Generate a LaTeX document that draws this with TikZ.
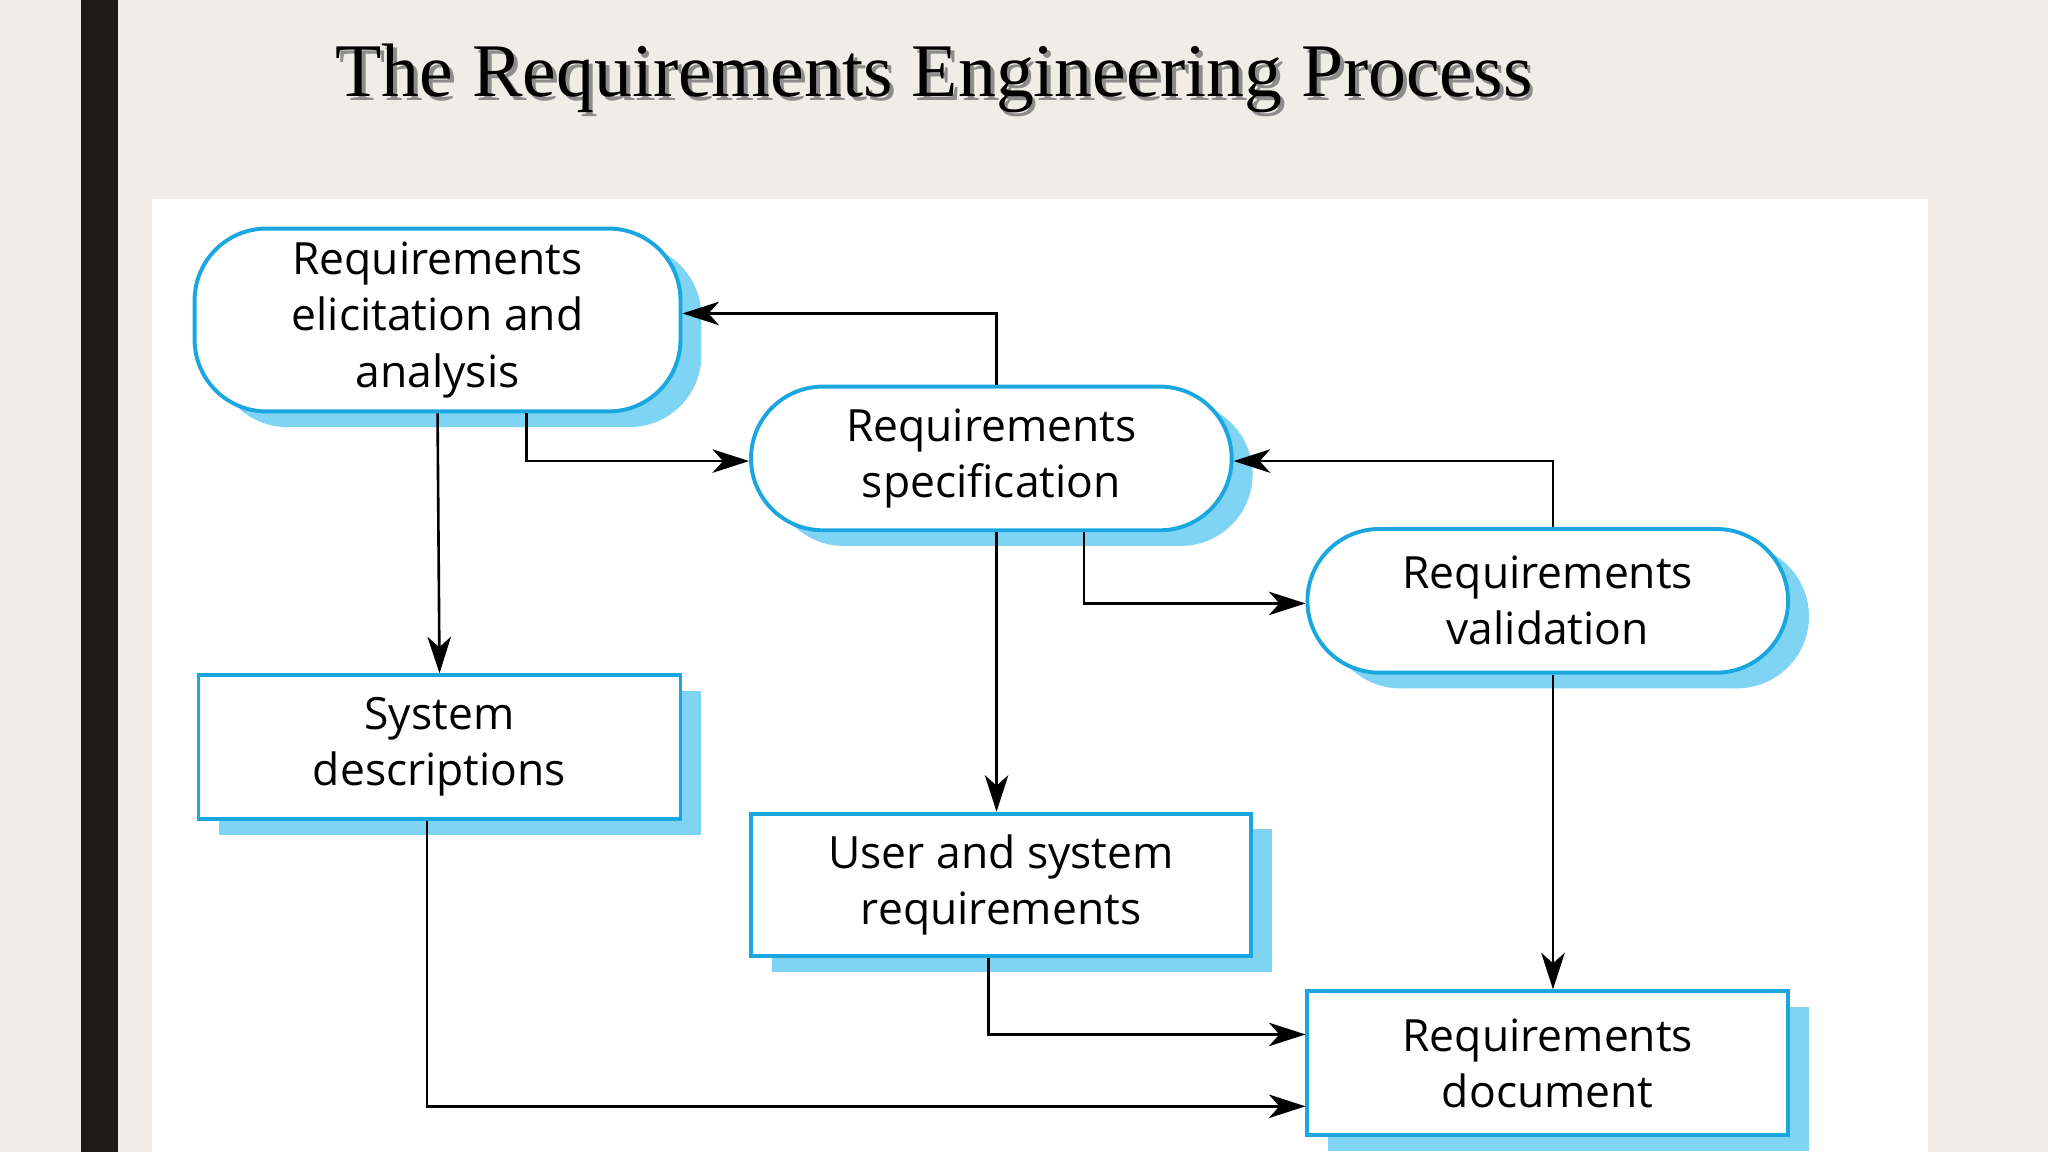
\documentclass[tikz,border=0pt]{standalone}
\usepackage{fontspec}
\setmainfont{Liberation Serif}
\newfontfamily\boxfont{Open Sans}
\usetikzlibrary{arrows.meta,shadows}
\definecolor{bg}{HTML}{EFEDE6}
\definecolor{bar}{HTML}{1C1C14}
\definecolor{edge}{HTML}{1AA7E0}
\definecolor{shad}{HTML}{7FD4F4}
\begin{document}
\begin{tikzpicture}[x=1pt,y=-1pt,
  box/.style={draw=edge,line width=3pt,fill=white,align=center,
    font=\boxfont\fontsize{34}{43}\selectfont,
    drop shadow={shadow xshift=16pt,shadow yshift=-12pt,fill=shad,opacity=1}},
  proc/.style={box,rounded corners=55pt},
  arr/.style={line width=2pt,-{Stealth[length=28pt,width=18pt,inset=8pt]}}]
\useasboundingbox (0,0) rectangle (1568,882);
\fill[bg] (0,0) rectangle (1568,882);
\fill[bar] (62,0) rectangle (90,882);
\fill[white] (116,152) rectangle (1476,882);
\node[text=black!45,font=\fontsize{58}{64}\selectfont] at (718,63) {The Requirements Engineering Process};
\node (title) [text=black,font=\fontsize{58}{64}\selectfont] at (715,60) {The Requirements Engineering Process};
\node (A) [proc,minimum width=372pt,minimum height=140pt] at (335,245) {Requirements\\elicitation and\\analysis};
\node (B) [proc,minimum width=368pt,minimum height=110pt] at (759,351) {Requirements\\specification};
\node (C) [proc,minimum width=368pt,minimum height=110pt] at (1185,460) {Requirements\\validation};
\node (D) [box,minimum width=369pt,minimum height=110pt] at (336.5,572) {System\\descriptions};
\node (E) [box,minimum width=383pt,minimum height=109pt] at (766.5,677.5) {User and system\\requirements};
\node (F) [box,minimum width=368pt,minimum height=110pt] at (1185,814) {Requirements\\document};
\draw[arr] (763,0 |- B.north) -- (763,240) -- (A.east |- 0,240);
\draw[arr] (403,0 |- A.south) -- (403,353) -- (B.west |- 0,353);
\draw[arr] (335,0 |- A.south) -- (D.north);
\draw[arr] (1189,0 |- C.north) -- (1189,353) -- (B.east |- 0,353);
\draw[arr] (830,0 |- B.south) -- (830,462) -- (C.west |- 0,462);
\draw[arr] (763,0 |- B.south) -- (763,0 |- E.north);
\draw[arr] (1189,0 |- C.south) -- (1189,0 |- F.north);
\draw[arr] (757,0 |- E.south) -- (757,792) -- (F.west |- 0,792);
\draw[arr] (327,0 |- D.south) -- (327,847) -- (F.west |- 0,847);
\end{tikzpicture}
\end{document}
